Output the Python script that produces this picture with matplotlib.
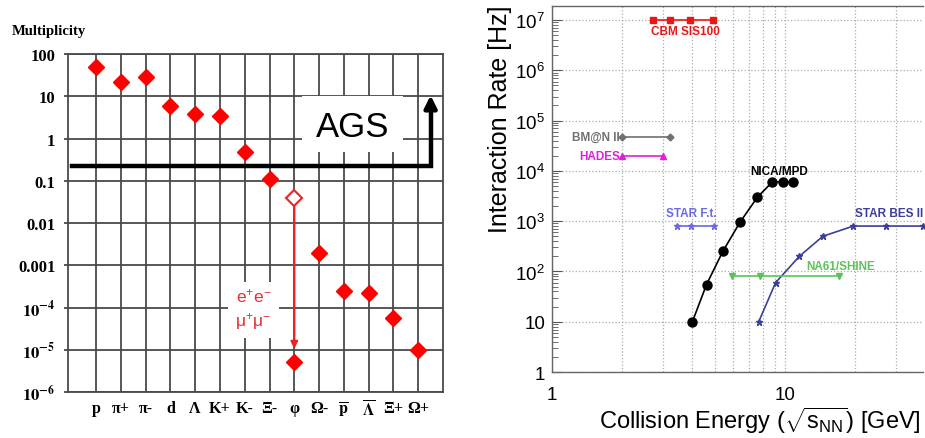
import numpy as np
import matplotlib
matplotlib.use("Agg")
import matplotlib.pyplot as plt
from matplotlib.patches import Rectangle
from matplotlib.ticker import LogLocator, NullFormatter, FixedLocator

plt.rcParams['font.family'] = ['Liberation Sans', 'DejaVu Sans']
plt.rcParams['mathtext.fontset'] = 'custom'
plt.rcParams['mathtext.rm'] = 'Liberation Sans'
plt.rcParams['mathtext.it'] = 'Liberation Sans:italic'
plt.rcParams['mathtext.bf'] = 'Liberation Sans:bold'

# --- particle multiplicities (left panel) ---
particles = ['p', 'π+', 'π-', 'd', 'Λ', 'K+', 'K-', 'Ξ-', 'φ', 'Ω-',
             r'$\overline{\mathbf{p}}$', r'$\overline{\mathbf{\Lambda}}$', 'Ξ+', 'Ω+']
multiplicity = [50, 22, 28, 6, 3.8, 3.4, 0.48, 0.11, 0.039, 0.002,
                2.4e-4, 2.2e-4, 5.6e-5, 1e-5]
phi_index = 8
phi_dilepton = 5e-6
ags_threshold = 0.22
mult_ticks = [100, 10, 1, 0.1, 0.01, 0.001, 1e-4, 1e-5, 1e-6]
mult_ticklabels = ['100', '10', '1', '0.1', '0.01', '0.001',
                   r'$\mathbf{10^{-4}}$', r'$\mathbf{10^{-5}}$', r'$\mathbf{10^{-6}}$']

# --- interaction rates of experiments (right panel) ---
cbm_e = [2.7, 3.2, 3.9, 4.9]
cbm_rate = [1e7, 1e7, 1e7, 1e7]
bmn_e = [2.0, 3.2]
bmn_rate = [4.8e4, 4.8e4]
hades_e = [2.0, 3.0]
hades_rate = [2e4, 2e4]
nica_e = [4.0, 4.6, 5.4, 6.4, 7.6, 8.8, 9.8, 10.8]
nica_rate = [10, 55, 250, 950, 3000, 6000, 6000, 6000]
starft_e = [3.45, 3.95, 4.95]
starft_rate = [800, 800, 800]
bes_e = [7.7, 9.1, 11.5, 14.5, 19.6, 27, 39]
bes_rate = [10, 60, 200, 500, 800, 800, 800]
na61_e = [5.9, 7.8, 17.0]
na61_rate = [80, 80, 80]

fig = plt.figure(figsize=(9.25, 4.39), dpi=100)
serif = ['Liberation Serif', 'DejaVu Serif']

# ---------------- left: multiplicities ----------------
ax1 = fig.add_axes([68 / 925, 1 - 393 / 439, 375 / 925, 338 / 439])
ax1.set_yscale('log')
ax1.set_ylim(1e-6, 100)
ax1.set_xlim(-1.13, 14.0)
gridc = '#4a4a4a'
for s in ax1.spines.values():
    s.set_color(gridc)
    s.set_linewidth(1.3)
x = np.arange(len(particles))
ax1.set_xticks(x)
ax1.set_xticklabels(particles, family=serif, fontweight='bold', fontsize=11.5)
ax1.set_yticks(mult_ticks)
ax1.set_yticklabels(mult_ticklabels, family=serif, fontweight='bold', fontsize=12)
for lab in ax1.get_yticklabels() + ax1.get_xticklabels():
    lab.set_math_fontfamily('stix')
ax1.yaxis.set_minor_locator(FixedLocator([]))
ax1.tick_params(axis='x', length=0, pad=6)
ax1.tick_params(axis='y', length=3, width=1.3, color=gridc, pad=6)
ax1.grid(True, color=gridc, linewidth=1.3)
ax1.set_axisbelow(True)

filled = [m for i, m in enumerate(multiplicity) if i != phi_index]
xf = [i for i in x if i != phi_index]
ax1.plot(xf, filled, 'D', color='#ff0000', markersize=8, zorder=5)
ax1.plot(phi_index, multiplicity[phi_index], 'D', mfc='white', mec='#ee2222',
         mew=1.5, markersize=8, zorder=6)
ax1.plot(phi_index, phi_dilepton, 'D', color='#ff0000', markersize=8, zorder=5)
ax1.annotate('', xy=(phi_index, 1.05e-5), xytext=(phi_index, 0.027),
             arrowprops=dict(arrowstyle='-|>', color='#ee2222', lw=1.6,
                             mutation_scale=10, shrinkA=0, shrinkB=0), zorder=4)
ax1.text(6.35, 9.5e-5, 'e$^{+}$e$^{-}$\nμ$^{+}$μ$^{-}$', color='#e83030',
         fontsize=12.5, ha='center', va='center', linespacing=1.35,
         bbox=dict(fc='white', ec='none', pad=5), zorder=3)

# AGS box and threshold arrow
ax1.add_patch(Rectangle((8.3, 0.48), 4.1, 9.6, fc='white', ec='none', zorder=2))
ax1.text(10.35, 1.9, 'AGS', fontsize=25, ha='center', va='center', zorder=3)
ax1.plot([-0.97, 13.5, 13.5], [ags_threshold, ags_threshold, 5.5],
         color='black', lw=3.2, solid_joinstyle='miter', zorder=4)
ax1.annotate('', xy=(13.5, 10.5), xytext=(13.5, 5),
             arrowprops=dict(arrowstyle='-|>', color='black', lw=3.2,
                             mutation_scale=18, shrinkA=0, shrinkB=0), zorder=4)
fig.text(12 / 925, 1 - 31 / 439, 'Multiplicity', family=serif,
         fontweight='bold', fontsize=10.5, va='center')

# ---------------- right: interaction rates ----------------
ax2 = fig.add_axes([552 / 925, 1 - 373 / 439, 371 / 925, 366 / 439])
ax2.set_xscale('log')
ax2.set_yscale('log')
ax2.set_xlim(1, 39)
ax2.set_ylim(1, 10 ** 7.28)
ax2.xaxis.set_major_locator(FixedLocator([1, 10]))
ax2.set_xticklabels(['1', '10'])
ax2.xaxis.set_minor_locator(LogLocator(base=10, subs=np.arange(2, 10)))
ax2.xaxis.set_minor_formatter(NullFormatter())
ax2.yaxis.set_major_locator(FixedLocator([1, 10, 1e2, 1e3, 1e4, 1e5, 1e6, 1e7]))
ax2.set_yticklabels(['1', '10', '$10^{2}$', '$10^{3}$', '$10^{4}$', '$10^{5}$',
                     '$10^{6}$', '$10^{7}$'])
ax2.yaxis.set_minor_locator(LogLocator(base=10, subs=np.arange(2, 10)))
ax2.yaxis.set_minor_formatter(NullFormatter())
ax2.tick_params(axis='both', which='both', direction='in', labelsize=13.5, color='#555555')
ax2.tick_params(axis='y', which='major', length=7, pad=5)
ax2.tick_params(axis='y', which='minor', length=4)
ax2.tick_params(axis='x', which='both', length=0, pad=10)
ax2.grid(True, which='major', axis='both', color='#aaaaaa', linestyle=':', linewidth=0.9)
ax2.grid(True, which='minor', axis='x', color='#aaaaaa', linestyle=':', linewidth=0.9)
for s in ax2.spines.values():
    s.set_color('#666666')
    s.set_linewidth(1.0)
ax2.spines['right'].set_visible(False)

ax2.plot(cbm_e, cbm_rate, '-s', color='#e81818', markersize=5, lw=1.2)
ax2.plot(bmn_e, bmn_rate, '-D', color='#707070', markersize=3.5, lw=1.2)
ax2.plot(hades_e, hades_rate, '-^', color='#e020d8', markersize=5, lw=1.2)
ax2.plot(nica_e, nica_rate, '-o', color='black', markersize=6.5, lw=1.2)
ax2.plot(starft_e, starft_rate, '-*', color='#6a6ae6', markersize=5, lw=1.2)
ax2.plot(bes_e, bes_rate, '-*', color='#3d3d9a', markersize=5, lw=1.2, clip_on=False)
ax2.plot(na61_e, na61_rate, '-v', color='#5cc25c', markersize=5, lw=1.2)

lbl = dict(fontsize=8.5, fontweight='bold')
ax2.text(3.75, 6.2e6, 'CBM SIS100', color='#e81818', ha='center', va='center', **lbl)
ax2.text(1.95, 4.8e4, 'BM@N II', color='#707070', ha='right', va='center', **lbl)
ax2.text(1.95, 2e4, 'HADES', color='#e020d8', ha='right', va='center', **lbl)
ax2.text(9.4, 1.0e4, 'NICA/MPD', color='black', ha='center', va='center', **lbl)
ax2.text(3.95, 1.45e3, 'STAR F.t.', color='#6a6ae6', ha='center', va='center', **lbl)
ax2.text(28, 1.45e3, 'STAR BES II', color='#3d3d9a', ha='center', va='center', **lbl)
ax2.text(17.3, 130, 'NA61/SHINE', color='#5cc25c', ha='center', va='center', **lbl)

ax2.set_ylabel('Interaction Rate [Hz]', fontsize=18)
ax2.yaxis.set_label_coords(-0.108, 0.694)
ax2.set_xlabel(r'Collision Energy ($\sqrt{\mathrm{s}_{\mathrm{NN}}}$) [GeV]', fontsize=17)
ax2.xaxis.set_label_coords(0.56, -0.088)

fig.savefig('out.png', dpi=100)
